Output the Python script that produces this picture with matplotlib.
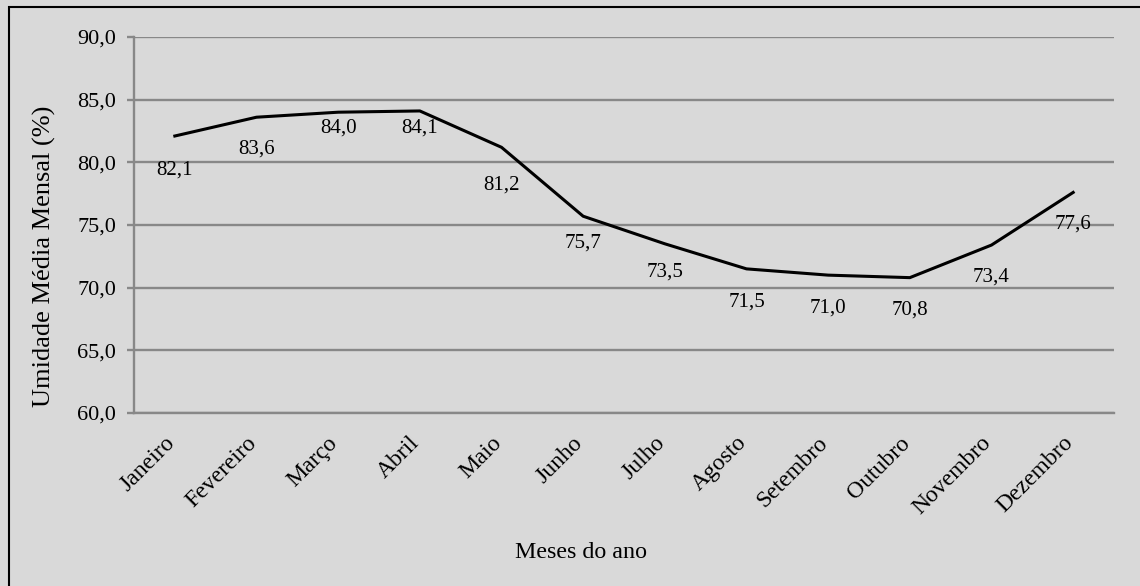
import matplotlib
matplotlib.use('Agg')
import matplotlib.pyplot as plt
from matplotlib.patches import Rectangle

plt.rcParams['font.family'] = ['Liberation Serif', 'DejaVu Serif']

meses = ['Janeiro', 'Fevereiro', 'Março', 'Abril', 'Maio', 'Junho',
         'Julho', 'Agosto', 'Setembro', 'Outubro', 'Novembro', 'Dezembro']
umidade = [82.1, 83.6, 84.0, 84.1, 81.2, 75.7, 73.5, 71.5, 71.0, 70.8, 73.4, 77.6]
# deslocamento vertical de cada rótulo (pixels abaixo do ponto)
desloc = [34, 32, 16, 17, 38, 27, 28, 33, 33, 32, 32, 32]

fundo = '#d9d9d9'
grade = '#888888'

fig = plt.figure(figsize=(11.4, 5.86), dpi=100, facecolor=fundo)
ax = fig.add_axes([134/1140, 1 - 413/586, 980/1140, 376/586])
ax.set_facecolor(fundo)

x = range(len(meses))
ax.plot(x, umidade, color='black', lw=2.2)

for i, v in enumerate(umidade):
    ax.annotate(f'{v:.1f}'.replace('.', ','), (i, v), xytext=(0, -desloc[i]),
                textcoords='offset pixels', ha='center', va='center',
                fontsize=15)

ax.set_xlim(-0.5, len(meses) - 0.5)
ax.set_ylim(60, 90)
ax.set_yticks(range(60, 91, 5))
ax.set_yticklabels([f'{t:.1f}'.replace('.', ',') for t in range(60, 91, 5)])
ax.set_xticks([i + 0.05 for i in x])
ax.set_xticklabels(meses, rotation=45, ha='right', rotation_mode='default')

ax.grid(axis='y', color=grade, lw=1.7)
ax.set_axisbelow(True)
for lado in ['top', 'right']:
    ax.spines[lado].set_visible(False)
for lado in ['left', 'bottom']:
    ax.spines[lado].set_color(grade)
    ax.spines[lado].set_linewidth(1.7)

ax.tick_params(axis='y', length=5, width=1.7, color=grade, pad=8, labelsize=16)
ax.tick_params(axis='x', length=0, pad=14, labelsize=17)

fig.text(581/1140, 1 - 553/586, 'Meses do ano', ha='center', va='center', fontsize=17.3)
fig.text(44/1140, 1 - 256/586, 'Umidade Média Mensal (%)', ha='center', va='center',
         rotation=90, fontsize=19)

# moldura externa
fig.patches.append(Rectangle((9/1140, -0.05), 1.2, 1 - 7/586 + 0.05,
                             transform=fig.transFigure, fill=False,
                             edgecolor='black', lw=1.5))

fig.savefig('out.png', dpi=100, facecolor=fundo)
